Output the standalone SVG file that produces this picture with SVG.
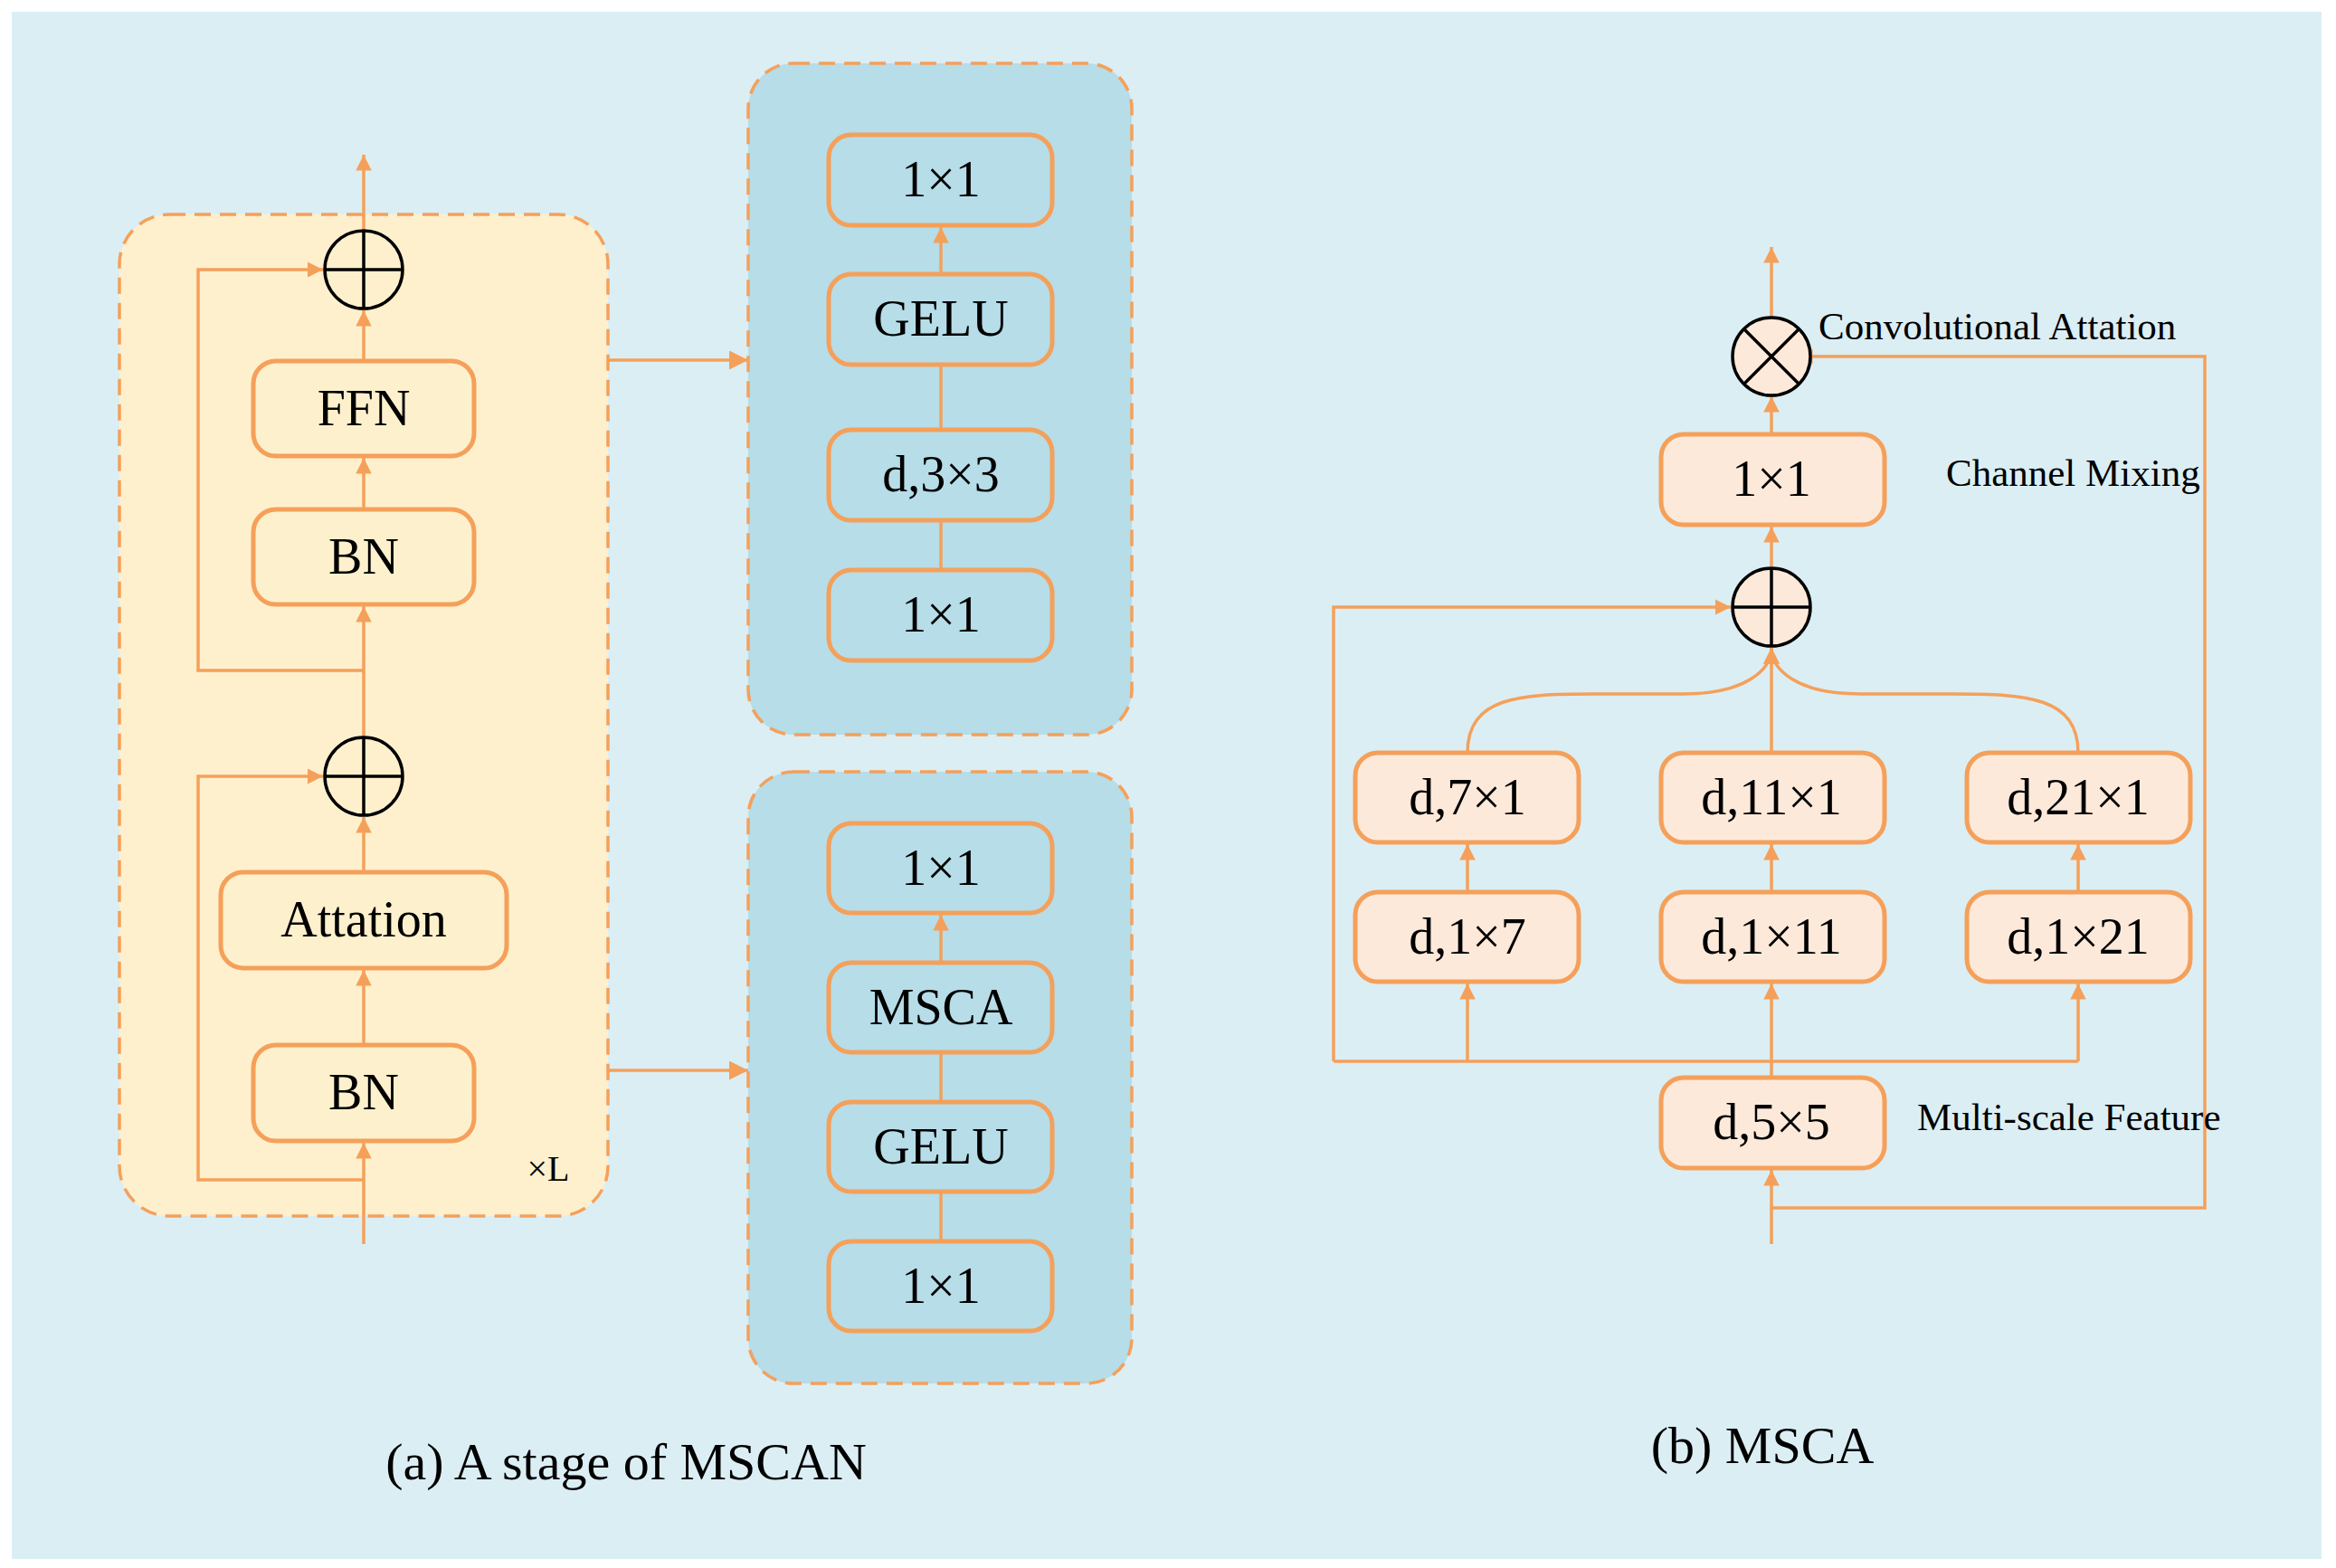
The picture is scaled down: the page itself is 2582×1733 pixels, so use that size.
<svg xmlns="http://www.w3.org/2000/svg" width="2582" height="1733" viewBox="0 0 2582 1733">
<style>
.bx{fill:#fdf0cc;stroke:#f5a05a;stroke-width:5}
.bb{fill:#b6dde8;stroke:#f5a05a;stroke-width:5}
.bp{fill:#fde9da;stroke:#f5a05a;stroke-width:5}
.t{font-family:"Liberation Serif",serif;font-size:56px;text-anchor:middle;fill:#000}
.l{font-family:"Liberation Serif",serif;font-size:43px;fill:#000}
.c{font-family:"Liberation Serif",serif;font-size:58px;text-anchor:middle;fill:#000}
.ln{fill:none;stroke:#f5a05a;stroke-width:3.5}
.op{fill:none;stroke:#000;stroke-width:3.5}
</style>
<defs>
<marker id="a" viewBox="0 0 10 10" refX="10" refY="5" markerWidth="5" markerHeight="5" orient="auto" markerUnits="strokeWidth"><path d="M0,0L10,5L0,10z" fill="#f5a05a"/></marker>
<marker id="A" viewBox="0 0 10 10" refX="10" refY="5" markerWidth="6" markerHeight="6" orient="auto" markerUnits="strokeWidth"><path d="M0,0L10,5L0,10z" fill="#f5a05a"/></marker>
</defs>
<rect x="13" y="13" width="2553" height="1710" fill="#dbeef4"/>
<g id="stage">
<rect x="132" y="237" width="540" height="1107" rx="55" fill="#fef0cd" stroke="#f5a05a" stroke-width="3.5" stroke-dasharray="18,10"/>
<text x="606" y="1305" class="l" style="font-size:40px" text-anchor="middle">×L</text>
</g>
<g id="block1"><rect x="827" y="70" width="424" height="742" rx="50" fill="#b6dde8" stroke="#f5a05a" stroke-width="3.5" stroke-dasharray="18,10"/></g>
<g id="block2"><rect x="827" y="853" width="424" height="676" rx="50" fill="#b6dde8" stroke="#f5a05a" stroke-width="3.5" stroke-dasharray="18,10"/></g>
<g id="connectors">
<path class="ln" d="M402,1375V1263" marker-end="url(#a)"/>
<path class="ln" d="M402,1304H219V858H357" marker-end="url(#a)"/>
<path class="ln" d="M402,1155V1072" marker-end="url(#a)"/>
<path class="ln" d="M402,964V903" marker-end="url(#a)"/>
<path class="ln" d="M402,815V670" marker-end="url(#a)"/>
<path class="ln" d="M402,741H219V298H357" marker-end="url(#a)"/>
<path class="ln" d="M402,563V506" marker-end="url(#a)"/>
<path class="ln" d="M402,399V343" marker-end="url(#a)"/>
<path class="ln" d="M402,255V171" marker-end="url(#a)"/>
<path class="ln" d="M672,398H827" marker-end="url(#A)" stroke-width="4"/>
<path class="ln" d="M672,1183H827" marker-end="url(#A)" stroke-width="4"/>
<path class="ln" d="M1040,630V251" marker-end="url(#a)"/>
<path class="ln" d="M1040,1372V1011" marker-end="url(#a)"/>
<path class="ln" d="M1958,1375V1293" marker-end="url(#a)"/>
<path class="ln" d="M1958,1335H2437V394H1986" marker-end="url(#a)"/>
<path class="ln" d="M1958,1191V1087" marker-end="url(#a)"/>
<path class="ln" d="M1474,1173H2297"/>
<path class="ln" d="M1622,1173V1087" marker-end="url(#a)"/>
<path class="ln" d="M2297,1173V1087" marker-end="url(#a)"/>
<path class="ln" d="M1474,1173V671H1913" marker-end="url(#a)"/>
<path class="ln" d="M1622,986V933" marker-end="url(#a)"/>
<path class="ln" d="M1958,986V933" marker-end="url(#a)"/>
<path class="ln" d="M2297,986V933" marker-end="url(#a)"/>
<path class="ln" d="M1958,832V716" marker-end="url(#a)"/>
<path class="ln" d="M1622,832C1622,770 1680,767 1760,767H1860C1930,767 1958,740 1958,716" marker-end="url(#a)"/>
<path class="ln" d="M2297,832C2297,770 2239,767 2160,767H2056C1986,767 1958,740 1958,716" marker-end="url(#a)"/>
<path class="ln" d="M1958,626V582" marker-end="url(#a)"/>
<path class="ln" d="M1958,480V438" marker-end="url(#a)"/>
<path class="ln" d="M1958,351V273" marker-end="url(#a)"/>
</g>
<g id="add1"><circle cx="402" cy="298" r="43" class="op"/><path class="op" d="M359,298H445M402,255V341"/></g>
<g id="add2"><circle cx="402" cy="858" r="43" class="op"/><path class="op" d="M359,858H445M402,815V901"/></g>
<g id="ffn"><rect x="280" y="399" width="244" height="105" rx="25" class="bx"/><text x="402" y="470" class="t">FFN</text></g>
<g id="bn1"><rect x="280" y="563" width="244" height="105" rx="25" class="bx"/><text x="402" y="634" class="t">BN</text></g>
<g id="att"><rect x="244" y="964" width="316" height="106" rx="25" class="bx"/><text x="402" y="1035" class="t">Attation</text></g>
<g id="bn2"><rect x="280" y="1155" width="244" height="106" rx="25" class="bx"/><text x="402" y="1226" class="t">BN</text></g>
<g id="b1a"><rect x="916" y="149" width="247" height="100" rx="25" class="bb"/><text x="1040" y="217" class="t">1×1</text></g>
<g id="b1b"><rect x="916" y="303" width="247" height="100" rx="25" class="bb"/><text x="1040" y="371" class="t">GELU</text></g>
<g id="b1c"><rect x="916" y="475" width="247" height="100" rx="25" class="bb"/><text x="1040" y="543" class="t">d,3×3</text></g>
<g id="b1d"><rect x="916" y="630" width="247" height="100" rx="25" class="bb"/><text x="1040" y="698" class="t">1×1</text></g>
<g id="b2a"><rect x="916" y="910" width="247" height="99" rx="25" class="bb"/><text x="1040" y="978" class="t">1×1</text></g>
<g id="b2b"><rect x="916" y="1064" width="247" height="99" rx="25" class="bb"/><text x="1040" y="1132" class="t">MSCA</text></g>
<g id="b2c"><rect x="916" y="1218" width="247" height="99" rx="25" class="bb"/><text x="1040" y="1286" class="t">GELU</text></g>
<g id="b2d"><rect x="916" y="1372" width="247" height="99" rx="25" class="bb"/><text x="1040" y="1440" class="t">1×1</text></g>
<g id="mul"><circle cx="1958" cy="394" r="43" fill="#fde9da" class="op" style="fill:#fde9da"/><path class="op" d="M1928,364L1988,424M1988,364L1928,424"/></g>
<g id="add3"><circle cx="1958" cy="671" r="43" class="op" style="fill:#fde9da"/><path class="op" d="M1915,671H2001M1958,628V714"/></g>
<g id="mix"><rect x="1836" y="480" width="247" height="100" rx="25" class="bp"/><text x="1958" y="548" class="t">1×1</text></g>
<g id="c71"><rect x="1498" y="832" width="247" height="99" rx="25" class="bp"/><text x="1622" y="900" class="t">d,7×1</text></g>
<g id="c111"><rect x="1836" y="832" width="247" height="99" rx="25" class="bp"/><text x="1958" y="900" class="t">d,11×1</text></g>
<g id="c211"><rect x="2174" y="832" width="247" height="99" rx="25" class="bp"/><text x="2297" y="900" class="t">d,21×1</text></g>
<g id="c17"><rect x="1498" y="986" width="247" height="99" rx="25" class="bp"/><text x="1622" y="1054" class="t">d,1×7</text></g>
<g id="c111b"><rect x="1836" y="986" width="247" height="99" rx="25" class="bp"/><text x="1958" y="1054" class="t">d,1×11</text></g>
<g id="c121"><rect x="2174" y="986" width="247" height="99" rx="25" class="bp"/><text x="2297" y="1054" class="t">d,1×21</text></g>
<g id="c55"><rect x="1836" y="1191" width="247" height="100" rx="25" class="bp"/><text x="1958" y="1259" class="t">d,5×5</text></g>
<g id="labels">
<text x="2010" y="375" class="l">Convolutional Attation</text>
<text x="2151" y="537" class="l">Channel Mixing</text>
<text x="2119" y="1249" class="l">Multi-scale Feature</text>
<text x="692" y="1635" class="c">(a) A stage of MSCAN</text>
<text x="1948" y="1617" class="c">(b) MSCA</text>
</g>
</svg>
